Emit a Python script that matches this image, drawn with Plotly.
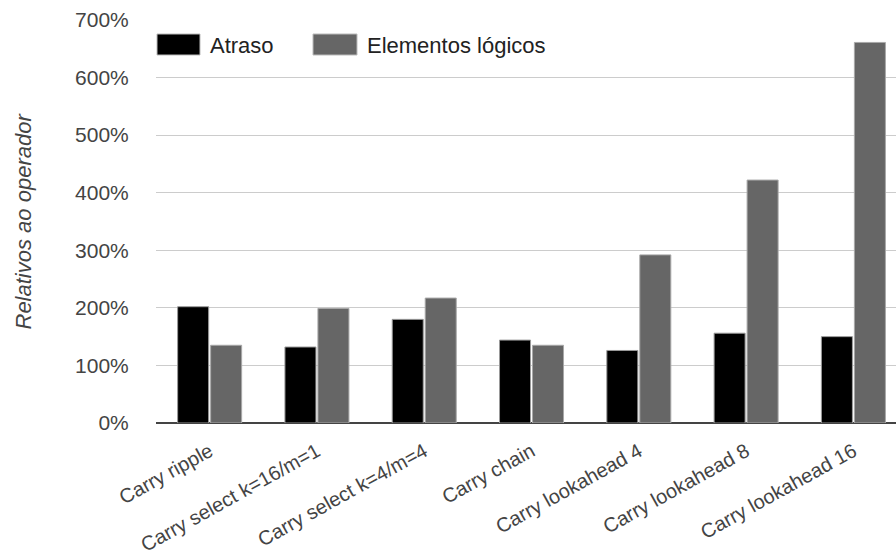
import plotly.graph_objects as go

# Adder architectures compared against the built-in operator
categories = [
    "Carry ripple",
    "Carry select k=16/m=1",
    "Carry select k=4/m=4",
    "Carry chain",
    "Carry lookahead 4",
    "Carry lookahead 8",
    "Carry lookahead 16",
]
atraso = [202, 132, 180, 144, 126, 156, 150]
elementos = [135, 199, 217, 135, 292, 422, 661]
y_ticks = [0, 100, 200, 300, 400, 500, 600, 700]
y_tick_text = [f"{v}%" for v in y_ticks]

W, H = 896, 560
L, R, T, B = 156, 0, 20, 137
FONT = "Arial, Liberation Sans, sans-serif"

fig = go.Figure()
fig.add_bar(x=categories, y=atraso, name="Atraso",
            marker=dict(color="#000000", line=dict(color="#9a9a9a", width=1)))
fig.add_bar(x=categories, y=elementos, name="Elementos lógicos",
            marker=dict(color="#666666", line=dict(color="#a8a8a8", width=1)))

pw, ph = W - L - R, H - T - B


def px(x):
    return (x - L) / pw


def py(y):
    return 1 - (y - T) / ph


# Legend drawn as swatches + labels along the top of the plot
legend_items = [("#000000", "Atraso", 157, 200), ("#666666", "Elementos lógicos", 313, 357)]
shapes, annotations = [], []
for color, label, x0, x1 in legend_items:
    shapes.append(dict(type="rect", xref="paper", yref="paper",
                       x0=px(x0), x1=px(x1), y0=py(55), y1=py(34),
                       fillcolor=color, line=dict(color="#bbbbbb", width=1), layer="above"))
    annotations.append(dict(xref="paper", yref="paper", x=px(x1 + 8), y=py(45),
                            xanchor="left", yanchor="middle", text=label, showarrow=False,
                            font=dict(family=FONT, size=22, color="#222222")))

annotations.append(dict(xref="paper", yref="paper", x=px(23), y=0.5,
                        xanchor="center", yanchor="middle", textangle=-90,
                        text="<i>Relativos ao operador</i>", showarrow=False,
                        font=dict(family=FONT, size=22, color="#444444")))

fig.update_layout(
    width=W, height=H,
    margin=dict(l=L, r=R, t=T, b=B, autoexpand=False),
    paper_bgcolor="white", plot_bgcolor="white",
    barmode="group", bargap=0.385, bargroupgap=0.06,
    showlegend=False,
    shapes=shapes, annotations=annotations,
    font=dict(family=FONT, color="#444444"),
)
fig.update_xaxes(range=[-0.5, 6.397], tickangle=-29, showgrid=False,
                 showline=False, ticks="outside", ticklen=8, tickcolor="rgba(0,0,0,0)",
                 tickfont=dict(size=20, color="#444444"))
fig.update_yaxes(range=[0, 700], tickvals=y_ticks, ticktext=y_tick_text,
                 showgrid=True, gridcolor="#cccccc", gridwidth=1,
                 zeroline=True, zerolinecolor="#444444", zerolinewidth=2,
                 ticks="outside", ticklen=22, tickcolor="rgba(0,0,0,0)",
                 tickfont=dict(size=21, color="#444444"))

fig.write_html("out.html")
